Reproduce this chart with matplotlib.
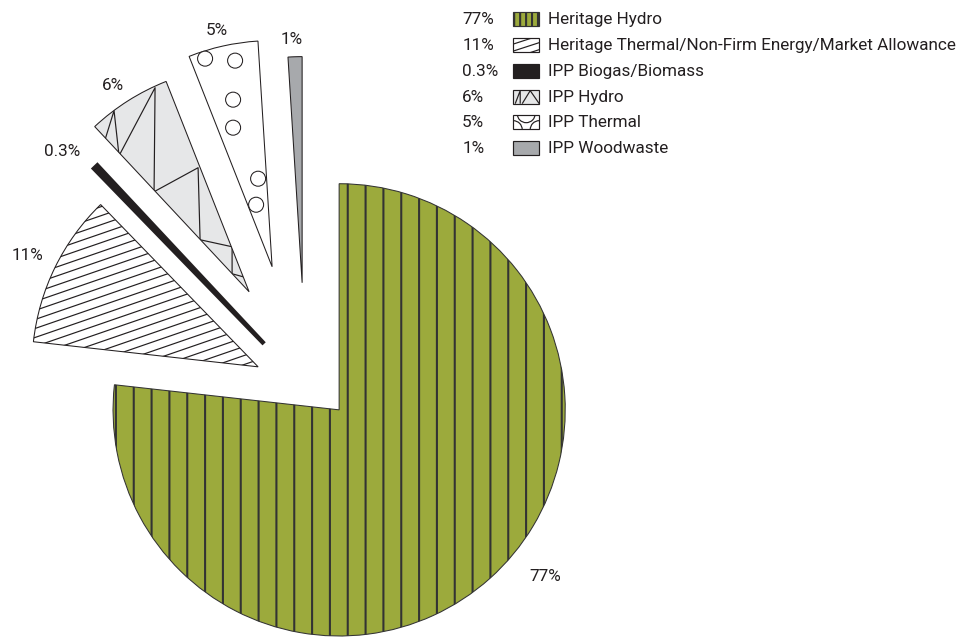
import numpy as np
import matplotlib
matplotlib.use("Agg")
import matplotlib.pyplot as plt
from matplotlib.patches import Rectangle, Circle
from matplotlib.collections import LineCollection

# data
categories = ["Heritage Hydro",
              "Heritage Thermal/Non-Firm Energy/Market Allowance",
              "IPP Biogas/Biomass",
              "IPP Hydro",
              "IPP Thermal",
              "IPP Woodwaste"]
shares = [77, 11, 0.3, 6, 5, 1]
pct_labels = ["77%", "11%", "0.3%", "6%", "5%", "1%"]

# styling
colors = ["#9caa3c", "#ffffff", "#231f20", "#e6e7e8", "#ffffff", "#a7a9ac"]
TEXT = "#231f20"
FS = 11.5
plt.rcParams["font.family"] = ["Roboto", "DejaVu Sans"]
plt.rcParams["hatch.linewidth"] = 1.4

DPI = 107
W, H = 969, 638
CX, CY, R = 339, 410, 226   # pie centre and radius in pixels


def px(x, y):
    # pixel position -> data units (pie radius = 1)
    return (x - CX) / R, (CY - y) / R


# where each exploded piece's tip sits (pixels)
apex_px = [(339, 410), (258, 367), (264, 344), (249, 292), (272, 267), (302, 283)]
# label centres (pixels)
label_px = [(545, 576), (27, 255), (62, 151), (113, 85), (217, 30), (292, 39)]

fig = plt.figure(figsize=((W + 0.4) / DPI, (H + 0.4) / DPI), dpi=DPI)
ax = fig.add_axes([0, 0, 1, 1])

wedges, _ = ax.pie(shares, colors=colors, startangle=90, counterclock=False,
                   wedgeprops=dict(edgecolor=TEXT, linewidth=0.7))
for w, a in zip(wedges, apex_px):
    w.set_center(px(*a))
wedges[0].set_hatch("|")
wedges[0].set_edgecolor("#333333")
wedges[2].set_radius(1.08)
wedges[2].set_linewidth(3.0)

ax.set_aspect("auto")
ax.set_xlim(-CX / R, (W - CX) / R)
ax.set_ylim((CY - H) / R, CY / R)
ax.axis("off")


def clipped_lines(segs, patch, lw=0.8):
    lc = LineCollection(segs, colors=TEXT, linewidths=lw, zorder=patch.get_zorder() + 0.1)
    ax.add_collection(lc)
    lc.set_clip_path(patch)


def shallow_hatch(patch, spacing_px=9, angle=19):
    slope = np.tan(np.radians(angle))
    segs = []
    for k in np.arange(-3, 3, spacing_px / R):
        segs.append([(-3, k - 3 * slope), (3, k + 3 * slope)])
    clipped_lines(segs, patch)


# 11%: shallow diagonal hatching
shallow_hatch(wedges[1])

# 6%: zig-zag motif
zigzag = [(105, 140), (114, 111), (119, 156), (155, 88), (154, 192), (198, 168),
          (200, 240), (232, 247), (232, 274), (243, 277)]
zz = [px(*p) for p in zigzag]
clipped_lines([zz], wedges[3])

# 5%: circle motif
for c in [(205, 59), (235, 61), (233, 100), (233, 128), (258, 179), (256, 205)]:
    ax.add_patch(Circle(px(*c), 7.5 / R, facecolor="white", edgecolor=TEXT,
                        linewidth=0.7, zorder=3))

# percentage labels next to the slices
for lab, pos in zip(pct_labels, label_px):
    ax.text(*px(*pos), lab, ha="center", va="center", fontsize=FS, color=TEXT)

# legend drawn as rows: percentage, swatch, name
row_y = [19, 45, 71, 97, 122, 148]
for i, (lab, name, y) in enumerate(zip(pct_labels, categories, row_y)):
    ax.text(*px(462, y), lab, ha="left", va="center", fontsize=FS, color=TEXT)
    ax.text(*px(548, y), name, ha="left", va="center", fontsize=FS, color=TEXT)
    box = Rectangle(px(513, y + 7), 26 / R, 14 / R, facecolor=colors[i],
                    edgecolor=TEXT, linewidth=0.8, zorder=3)
    ax.add_patch(box)
    if i == 0:
        box.set_hatch("|||")
        box.set_edgecolor("#333333")
    elif i == 1:
        shallow_hatch(box, spacing_px=7, angle=18)
    elif i == 3:
        pts = [(515, y + 7), (520, y - 6), (520, y + 7)]
        pts2 = [(522, y + 7), (530, y - 6), (539, y + 7)]
        clipped_lines([[px(*p) for p in pts], [px(*p) for p in pts2]], box)
    elif i == 4:
        for c in [(513, y + 8), (539, y + 8), (526, y - 8)]:
            circ = Circle(px(*c), 9 / R, facecolor="none", edgecolor=TEXT,
                          linewidth=0.8, zorder=3.2)
            ax.add_patch(circ)
            circ.set_clip_path(box)

fig.savefig("out.png", dpi=DPI)
